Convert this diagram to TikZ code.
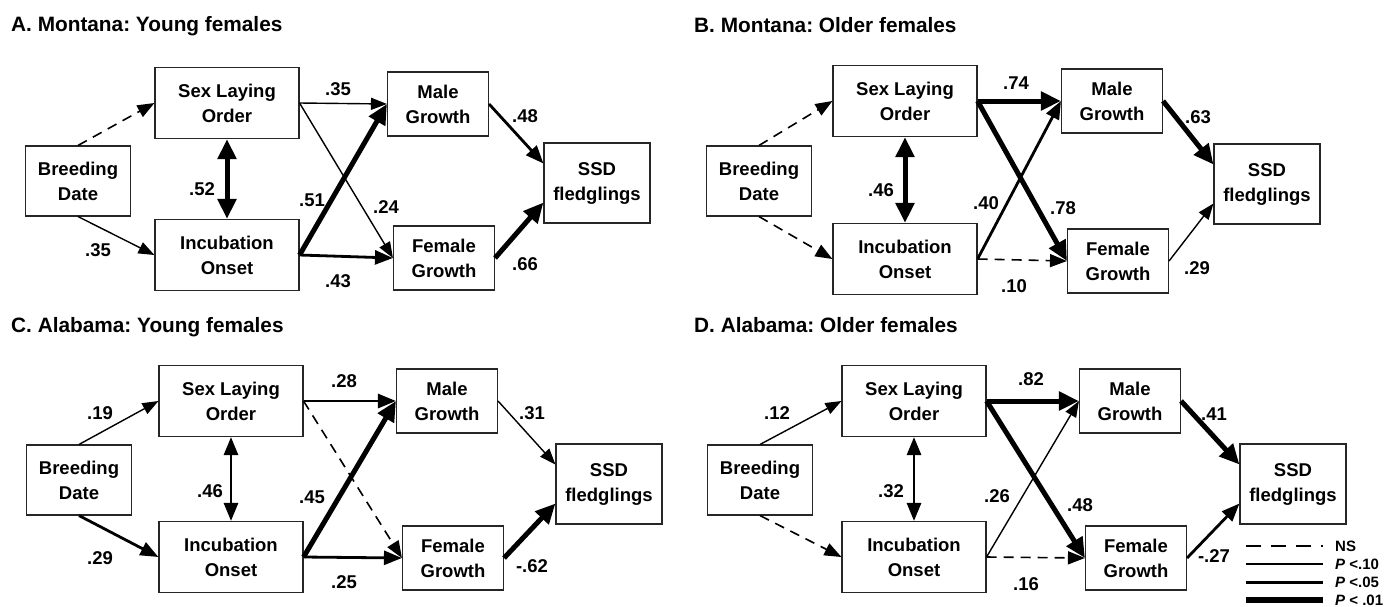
\documentclass[tikz,border=0pt]{standalone}
\usepackage{fontspec}
\setmainfont{Liberation Sans}
\usetikzlibrary{arrows.meta}
\frenchspacing

\newcommand\boxfnt{\fontsize{18.5}{25}\selectfont\bfseries}
\newcommand\ttlfnt{\fontsize{20.8}{24}\selectfont\bfseries}
\newcommand\legfnt{\fontsize{15}{17}\selectfont\bfseries}

\tikzset{
	box/.style={draw=black!85, line width=1.1pt, inner sep=0pt, align=center, font=\boxfnt},
	bdbox/.style={box, minimum width=105pt, minimum height=70pt},
	slobox/.style={box, minimum width=144pt, minimum height=71pt},
	grbox/.style={box, minimum width=101pt, minimum height=64pt},
	ssdbox/.style={box, minimum width=106pt, minimum height=80pt},
	lbl/.style={inner sep=0pt, font=\boxfnt},
	ttl/.style={anchor=base west, inner sep=0pt, font=\ttlfnt},
	leg/.style={anchor=west, inner sep=0pt, font=\legfnt},
	ns/.style={line width=1.6pt, dash pattern=on 10pt off 7pt, >={Triangle[length=17pt,width=13pt]}},
	pten/.style={line width=1.4pt, >={Triangle[length=16pt,width=12pt]}},
	pfive/.style={line width=2.8pt, >={Triangle[length=18pt,width=14pt]}},
	pone/.style={line width=5pt, >={Triangle[length=20pt,width=18pt]}}
}

\begin{document}
\begin{tikzpicture}[x=1pt, y=-1pt]
	\useasboundingbox (0,0) rectangle (1386,606);

	% панель A
	\node [ttl] (a-title) at ( 11, 31 ) {A. Montana: Young females};
	\node [bdbox] (a-bd) at ( 78, 181 ) {Breeding\\Date};
	\node [slobox] (a-slo) at ( 227, 103 ) {Sex Laying\\Order};
	\node [slobox] (a-inc) at ( 227, 255 ) {Incubation\\Onset};
	\node [grbox] (a-male) at ( 438, 104 ) {Male\\Growth};
	\node [grbox] (a-fem) at ( 444, 258 ) {Female\\Growth};
	\node [ssdbox] (a-ssd) at ( 597, 183 ) {SSD\\fledglings};
	\draw [ns, ->] (a-bd.north) -- (a-slo.west);
	\draw [pten, ->] (a-bd.south) -- (a-inc.west);
	\draw [pone, <->] (a-slo.south) -- (a-inc.north);
	\draw [pten, ->] (a-slo.east) -- (a-male.west);
	\draw [pten, ->] (a-slo.east) -- (a-fem.west);
	\draw [pone, ->] (a-inc.east) -- (a-male.west);
	\draw [pfive, ->] (a-inc.east) -- (a-fem.west);
	\draw [pfive, ->] (a-male.east) -- (a-ssd.160);
	\draw [pone, ->] (a-fem.east) -- (a-ssd.200);
	\node [lbl] (a-k1) at ( 98, 250 ) {.35};
	\node [lbl] (a-k2) at ( 202, 189 ) {.52};
	\node [lbl] (a-k3) at ( 338, 89 ) {.35};
	\node [lbl] (a-k4) at ( 386, 207 ) {.24};
	\node [lbl] (a-k5) at ( 312, 200 ) {.51};
	\node [lbl] (a-k6) at ( 338, 281 ) {.43};
	\node [lbl] (a-k7) at ( 525, 116 ) {.48};
	\node [lbl] (a-k8) at ( 525, 264 ) {.66};

	% панель B
	\node [ttl] (b-title) at ( 694, 32 ) {B. Montana: Older females};
	\node [bdbox] (b-bd) at ( 759, 181 ) {Breeding\\Date};
	\node [slobox] (b-slo) at ( 905, 101 ) {Sex Laying\\Order};
	\node [slobox] (b-inc) at ( 905, 259 ) {Incubation\\Onset};
	\node [grbox] (b-male) at ( 1112, 101 ) {Male\\Growth};
	\node [grbox] (b-fem) at ( 1118, 261 ) {Female\\Growth};
	\node [ssdbox] (b-ssd) at ( 1267, 184 ) {SSD\\fledglings};
	\draw [ns, ->] (b-bd.north) -- (b-slo.west);
	\draw [ns, ->] (b-bd.south) -- (b-inc.west);
	\draw [pone, <->] (b-slo.south) -- (b-inc.north);
	\draw [pone, ->] (b-slo.east) -- (b-male.west);
	\draw [pone, ->] (b-slo.east) -- (b-fem.west);
	\draw [pfive, ->] (b-inc.east) -- (b-male.west);
	\draw [ns, ->] (b-inc.east) -- (b-fem.west);
	\draw [pone, ->] (b-male.east) -- (b-ssd.160);
	\draw [pten, ->] (b-fem.east) -- (b-ssd.200);
	\node [lbl] (b-k1) at ( 1016, 83 ) {.74};
	\node [lbl] (b-k2) at ( 881, 190 ) {.46};
	\node [lbl] (b-k3) at ( 986, 203 ) {.40};
	\node [lbl] (b-k4) at ( 1063, 208 ) {.78};
	\node [lbl] (b-k5) at ( 1014, 286 ) {.10};
	\node [lbl] (b-k6) at ( 1198, 117 ) {.63};
	\node [lbl] (b-k7) at ( 1197, 268 ) {.29};

	% панель C
	\node [ttl] (c-title) at ( 11, 332 ) {C. Alabama: Young females};
	\node [bdbox] (c-bd) at ( 79, 480 ) {Breeding\\Date};
	\node [slobox] (c-slo) at ( 231, 401 ) {Sex Laying\\Order};
	\node [slobox] (c-inc) at ( 231, 557 ) {Incubation\\Onset};
	\node [grbox] (c-male) at ( 447, 401 ) {Male\\Growth};
	\node [grbox] (c-fem) at ( 453, 558 ) {Female\\Growth};
	\node [ssdbox] (c-ssd) at ( 609, 484 ) {SSD\\fledglings};
	\draw [pten, ->] (c-bd.north) -- (c-slo.west);
	\draw [pfive, ->] (c-bd.south) -- (c-inc.west);
	\draw [pfive, <->] (c-slo.south) -- (c-inc.north);
	\draw [pfive, ->] (c-slo.east) -- (c-male.west);
	\draw [ns, ->] (c-slo.east) -- (c-fem.west);
	\draw [pone, ->] (c-inc.east) -- (c-male.west);
	\draw [pfive, ->] (c-inc.east) -- (c-fem.west);
	\draw [pten, ->] (c-male.east) -- (c-ssd.160);
	\draw [pone, ->] (c-fem.east) -- (c-ssd.200);
	\node [lbl] (c-k1) at ( 100, 413 ) {.19};
	\node [lbl] (c-k2) at ( 100, 558 ) {.29};
	\node [lbl] (c-k3) at ( 210, 491 ) {.46};
	\node [lbl] (c-k4) at ( 344, 381 ) {.28};
	\node [lbl] (c-k5) at ( 312, 497 ) {.45};
	\node [lbl] (c-k6) at ( 344, 582 ) {.25};
	\node [lbl] (c-k7) at ( 532, 413 ) {.31};
	\node [lbl] (c-k8) at ( 532, 566 ) {-.62};

	% панель D
	\node [ttl] (d-title) at ( 694, 332 ) {D. Alabama: Older females};
	\node [bdbox] (d-bd) at ( 760, 480 ) {Breeding\\Date};
	\node [slobox] (d-slo) at ( 914, 401 ) {Sex Laying\\Order};
	\node [slobox] (d-inc) at ( 914, 557 ) {Incubation\\Onset};
	\node [grbox] (d-male) at ( 1130, 401 ) {Male\\Growth};
	\node [grbox] (d-fem) at ( 1136, 558 ) {Female\\Growth};
	\node [ssdbox] (d-ssd) at ( 1293, 484 ) {SSD\\fledglings};
	\draw [pten, ->] (d-bd.north) -- (d-slo.west);
	\draw [ns, ->] (d-bd.south) -- (d-inc.west);
	\draw [pfive, <->] (d-slo.south) -- (d-inc.north);
	\draw [pone, ->] (d-slo.east) -- (d-male.west);
	\draw [pone, ->] (d-slo.east) -- (d-fem.west);
	\draw [pten, ->] (d-inc.east) -- (d-male.west);
	\draw [ns, ->] (d-inc.east) -- (d-fem.west);
	\draw [pone, ->] (d-male.east) -- (d-ssd.160);
	\draw [pfive, ->] (d-fem.east) -- (d-ssd.200);
	\node [lbl] (d-k1) at ( 777, 413 ) {.12};
	\node [lbl] (d-k2) at ( 891, 491 ) {.32};
	\node [lbl] (d-k3) at ( 1031, 379 ) {.82};
	\node [lbl] (d-k4) at ( 997, 496 ) {.26};
	\node [lbl] (d-k5) at ( 1080, 505 ) {.48};
	\node [lbl] (d-k6) at ( 1026, 584 ) {.16};
	\node [lbl] (d-k7) at ( 1214, 414 ) {.41};
	\node [lbl] (d-k8) at ( 1214, 556 ) {-.27};

	% легенда
	\draw [ns, dash pattern=on 15pt off 10pt] ( 1246, 546 ) -- ( 1323, 546 );
	\draw [pten] ( 1246, 564 ) -- ( 1323, 564 );
	\draw [pfive, line width=3pt] ( 1246, 582 ) -- ( 1323, 582 );
	\draw [pone, line width=6pt] ( 1246, 600 ) -- ( 1323, 600 );
	\node [leg] (l-ns) at ( 1335, 546 ) {NS};
	\node [leg] (l-ten) at ( 1335, 564 ) {{\itshape P} <.10};
	\node [leg] (l-five) at ( 1335, 582 ) {{\itshape P} <.05};
	\node [leg] (l-one) at ( 1335, 600 ) {{\itshape P} < .01};
\end{tikzpicture}
\end{document}
